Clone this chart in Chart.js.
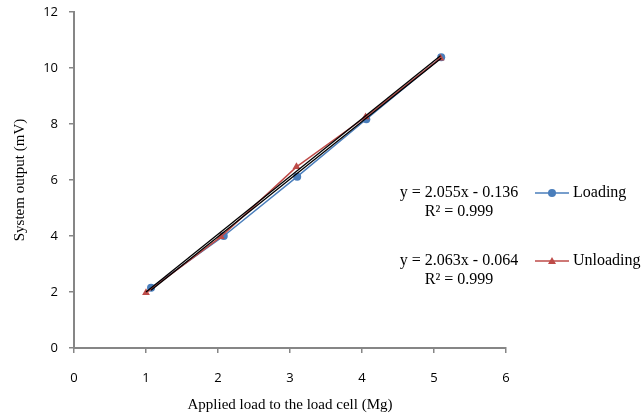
<!DOCTYPE html>
<html>
<head>
<meta charset="utf-8">
<script src="https://cdn.jsdelivr.net/npm/chart.js@4.4.1/dist/chart.umd.min.js"></script>
<style>
  html, body { margin: 0; padding: 0; background: #fff; }
  #wrap { width: 643px; height: 418px; position: relative; }
</style>
</head>
<body>
<div id="wrap"><canvas id="grafico" width="643" height="418"></canvas></div>
<script>
// Dados
const loadingX = [1.07, 2.08, 3.1, 4.06, 5.1];
const loadingY = [2.15, 4.0, 6.12, 8.17, 10.38];
const unloadingX = [1.0, 2.04, 3.09, 4.05, 5.09];
const unloadingY = [1.97, 3.97, 6.47, 8.25, 10.35];

// Linhas de tendência (equações mostradas no gráfico)
const trendLoading = { a: 2.055, b: -0.136, label: 'y = 2.055x - 0.136', r2: 'R² = 0.999' };
const trendUnloading = { a: 2.063, b: -0.064, label: 'y = 2.063x - 0.064', r2: 'R² = 0.999' };

const xTicks = [0, 1, 2, 3, 4, 5, 6];
const yTicks = [0, 2, 4, 6, 8, 10, 12];

const azul = '#4a7ebb';
const vermelho = '#be4b48';
const eixo = '#868686';

function pontos(xs, ys) {
  return xs.map((x, i) => ({ x: x, y: ys[i] }));
}

function tendencia(t, xs) {
  const x0 = Math.min(...xs), x1 = Math.max(...xs);
  return [{ x: x0, y: t.a * x0 + t.b }, { x: x1, y: t.a * x1 + t.b }];
}

// Legenda e equações desenhadas à direita
const legendaPlugin = {
  id: 'legenda',
  afterDraw(chart) {
    const ctx = chart.ctx;
    ctx.save();
    ctx.font = '16px "Liberation Serif", "Times New Roman", serif';
    ctx.fillStyle = '#000';
    ctx.textBaseline = 'middle';
    const itens = [
      { t: trendLoading, y: 193, nome: 'Loading', cor: azul, ponto: 'circle' },
      { t: trendUnloading, y: 261, nome: 'Unloading', cor: vermelho, ponto: 'triangle' }
    ];
    itens.forEach(it => {
      ctx.textAlign = 'center';
      ctx.fillText(it.t.label, 459, it.y);
      ctx.fillText(it.t.r2, 459, it.y + 19);
      ctx.textAlign = 'left';
      ctx.fillText(it.nome, 573, it.y);
      ctx.strokeStyle = it.cor;
      ctx.lineWidth = 1.5;
      ctx.beginPath();
      ctx.moveTo(535, it.y);
      ctx.lineTo(569, it.y);
      ctx.stroke();
      ctx.fillStyle = it.cor;
      ctx.beginPath();
      if (it.ponto === 'circle') {
        ctx.arc(552, it.y, 4, 0, Math.PI * 2);
      } else {
        ctx.moveTo(552, it.y - 4);
        ctx.lineTo(556, it.y + 3);
        ctx.lineTo(548, it.y + 3);
        ctx.closePath();
      }
      ctx.fill();
      ctx.fillStyle = '#000';
    });
    ctx.restore();
  }
};

const ctx = document.getElementById('grafico').getContext('2d');
new Chart(ctx, {
  type: 'scatter',
  data: {
    datasets: [
      {
        label: 'Loading',
        data: pontos(loadingX, loadingY),
        showLine: true,
        borderColor: azul,
        backgroundColor: azul,
        borderWidth: 1.5,
        pointStyle: 'circle',
        pointRadius: 4,
        pointBorderWidth: 0,
        order: 2
      },
      {
        label: 'Unloading',
        data: pontos(unloadingX, unloadingY),
        showLine: true,
        borderColor: vermelho,
        backgroundColor: vermelho,
        borderWidth: 1.5,
        pointStyle: 'triangle',
        pointRadius: 4.5,
        pointBorderWidth: 0,
        order: 1
      },
      {
        label: 'Tendência Loading',
        data: tendencia(trendLoading, loadingX),
        showLine: true,
        borderColor: '#000',
        borderWidth: 1.3,
        pointRadius: 0,
        order: 0
      },
      {
        label: 'Tendência Unloading',
        data: tendencia(trendUnloading, unloadingX),
        showLine: true,
        borderColor: '#000',
        borderWidth: 1.3,
        pointRadius: 0,
        order: 0
      }
    ]
  },
  options: {
    responsive: false,
    animation: false,
    layout: { padding: { top: 12, right: 137, bottom: 0, left: 0 } },
    plugins: {
      legend: { display: false },
      tooltip: { enabled: false }
    },
    scales: {
      x: {
        type: 'linear',
        min: 0,
        max: 6,
        afterBuildTicks: s => { s.ticks = xTicks.map(v => ({ value: v })); },
        afterFit: s => { s.height = 70; s.paddingLeft = 0; s.paddingRight = 0; },
        border: { color: eixo, width: 2 },
        grid: { drawOnChartArea: false, color: eixo, tickLength: 5, lineWidth: 1.5 },
        ticks: { color: '#000', padding: 17, font: { family: '"Open Sans", sans-serif', size: 13 } },
        title: {
          display: true,
          text: 'Applied load to the load cell (Mg)',
          color: '#000',
          padding: 4,
          font: { family: '"Liberation Serif", serif', size: 15 }
        }
      },
      y: {
        type: 'linear',
        min: 0,
        max: 12,
        afterBuildTicks: s => { s.ticks = yTicks.map(v => ({ value: v })); },
        afterFit: s => { s.width = 74; s.paddingTop = 0; s.paddingBottom = 0; },
        border: { color: eixo, width: 2 },
        grid: { drawOnChartArea: false, color: eixo, tickLength: 5, lineWidth: 1.5 },
        ticks: { color: '#000', padding: 11, font: { family: '"Open Sans", sans-serif', size: 13 } },
        title: {
          display: true,
          text: 'System output (mV)',
          color: '#000',
          padding: 11,
          font: { family: '"Liberation Serif", serif', size: 15 }
        }
      }
    }
  },
  plugins: [legendaPlugin]
});
</script>
</body>
</html>
